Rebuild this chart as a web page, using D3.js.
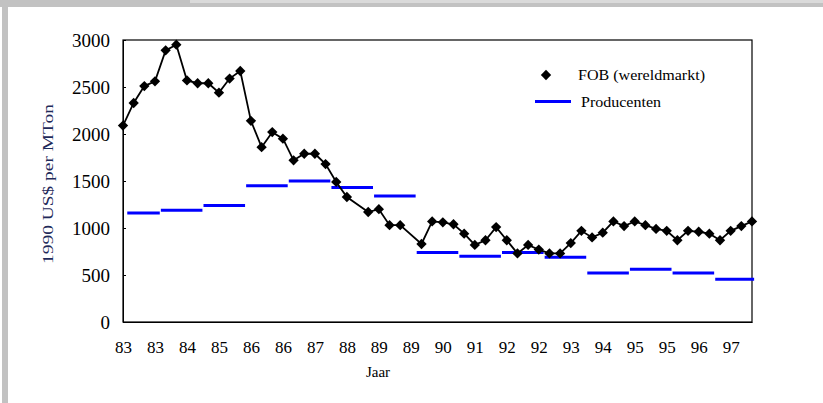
<!DOCTYPE html>
<html><head><meta charset="utf-8">
<script src="https://cdn.jsdelivr.net/npm/d3@7"></script>
<style>body{margin:0;background:#fff}svg{display:block}text{font-family:"Liberation Serif","Times New Roman",serif}</style>
</head><body><svg id="c" width="823" height="403"></svg>
<script>
// Quarterly FOB world-market price (1990 US$ per MTon), 1983 Q1 .. 1997 Q4 (null = no marker visible)
const fobValues = [2090,2330,2510,2560,2890,2950,2570,2540,2540,2440,2590,2670,
  2140,1860,2020,1950,1720,1790,1790,1680,1490,1330,null,1170,
  1200,1030,1030,null,830,1070,1060,1040,940,820,870,1010,
  870,730,820,770,730,730,840,970,900,950,1070,1020,
  1070,1030,990,970,870,970,960,940,870,970,1020,1070];
// Yearly producer price
const producerYears = [1983,1984,1985,1986,1987,1988,1989,1990,1991,1992,1993,1994,1995,1996,1997];
const producerValues = [1160,1190,1240,1450,1500,1430,1340,740,700,740,690,520,560,520,455];
// Category tick labels (every third quarter)
const tickLabels = ["83","83","84","85","86","86","87","88","89","89","90","91","92","92","93","94","95","95","96","97"];
const yTicks = [0,500,1000,1500,2000,2500,3000];

const svg = d3.select("#c");
// frame decoration (scanned page border)
svg.append("rect").attr("x",0).attr("y",0).attr("width",823).attr("height",7).attr("fill","#c2c2c2");
svg.append("rect").attr("x",190).attr("y",0).attr("width",633).attr("height",3).attr("fill","#dadada");
svg.append("rect").attr("x",2).attr("y",0).attr("width",6).attr("height",403).attr("fill","#c2c2c2");

const L=123,R=752,T=40,B=322;
const x = d3.scaleLinear().domain([0,fobValues.length-1]).range([L,R]);
const y = d3.scaleLinear().domain([0,3000]).range([B,T]);

// plot frame
svg.append("rect").attr("x",L).attr("y",T).attr("width",R-L).attr("height",B-T)
  .attr("fill","none").attr("stroke","#000").attr("stroke-width",1.2);

// y axis
const ya = svg.append("g").attr("transform",`translate(${L},0)`)
  .call(d3.axisLeft(y).tickValues(yTicks).tickFormat(d3.format("d")).tickSizeInner(-3).tickSizeOuter(0).tickPadding(13));
ya.select(".domain").attr("stroke","#000");
ya.selectAll("text").attr("font-size",19).attr("fill","#000");

// x axis
const xa = svg.append("g").attr("transform",`translate(0,${B})`)
  .call(d3.axisBottom(x).tickValues(tickLabels.map((d,i)=>i*3)).tickFormat((d,i)=>tickLabels[i]).tickSize(0).tickPadding(19));
xa.select(".domain").attr("stroke","#000");
xa.selectAll("text").attr("font-size",17).attr("fill","#000");

// producer segments
const seg = producerYears.map((yr,k)=>({x0:Math.max(4*k-0.45,0.4), x1:Math.min(4*k+3.45,59.2), v:producerValues[k]}));
svg.append("g").selectAll("line").data(seg).join("line")
  .attr("x1",d=>x(d.x0)).attr("x2",d=>x(d.x1)).attr("y1",d=>y(d.v)).attr("y2",d=>y(d.v))
  .attr("stroke","#0000ff").attr("stroke-width",3);

// FOB line
const pts = fobValues.map((v,i)=>({i,v})).filter(d=>d.v!==null);
svg.append("path").datum(pts).attr("fill","none").attr("stroke","#000").attr("stroke-width",1.8)
  .attr("d",d3.line().x(d=>x(d.i)).y(d=>y(d.v)));
const diamond = d3.symbol().type(d3.symbolDiamond2).size(68);
svg.append("g").selectAll("path").data(pts).join("path")
  .attr("transform",d=>`translate(${x(d.i)},${y(d.v)})`).attr("d",diamond()).attr("fill","#000");

// legend
svg.append("path").attr("transform","translate(546,75)").attr("d",diamond()).attr("fill","#000");
svg.append("text").attr("x",578).attr("y",80).attr("font-size",15).attr("textLength",127).attr("lengthAdjust","spacingAndGlyphs").text("FOB (wereldmarkt)");
svg.append("line").attr("x1",535).attr("x2",571).attr("y1",101.5).attr("y2",101.5).attr("stroke","#0000ff").attr("stroke-width",3);
svg.append("text").attr("x",581).attr("y",107).attr("font-size",15).attr("textLength",80).attr("lengthAdjust","spacingAndGlyphs").text("Producenten");

// axis titles
svg.append("text").attr("transform","translate(53,184) rotate(-90)").attr("text-anchor","middle")
  .attr("font-size",14).attr("textLength",160).attr("lengthAdjust","spacingAndGlyphs")
  .attr("fill","#1f2a5a").text("1990 US$ per MTon");
svg.append("text").attr("x",378).attr("y",377).attr("text-anchor","middle").attr("font-size",15).text("Jaar");
</script></body></html>
